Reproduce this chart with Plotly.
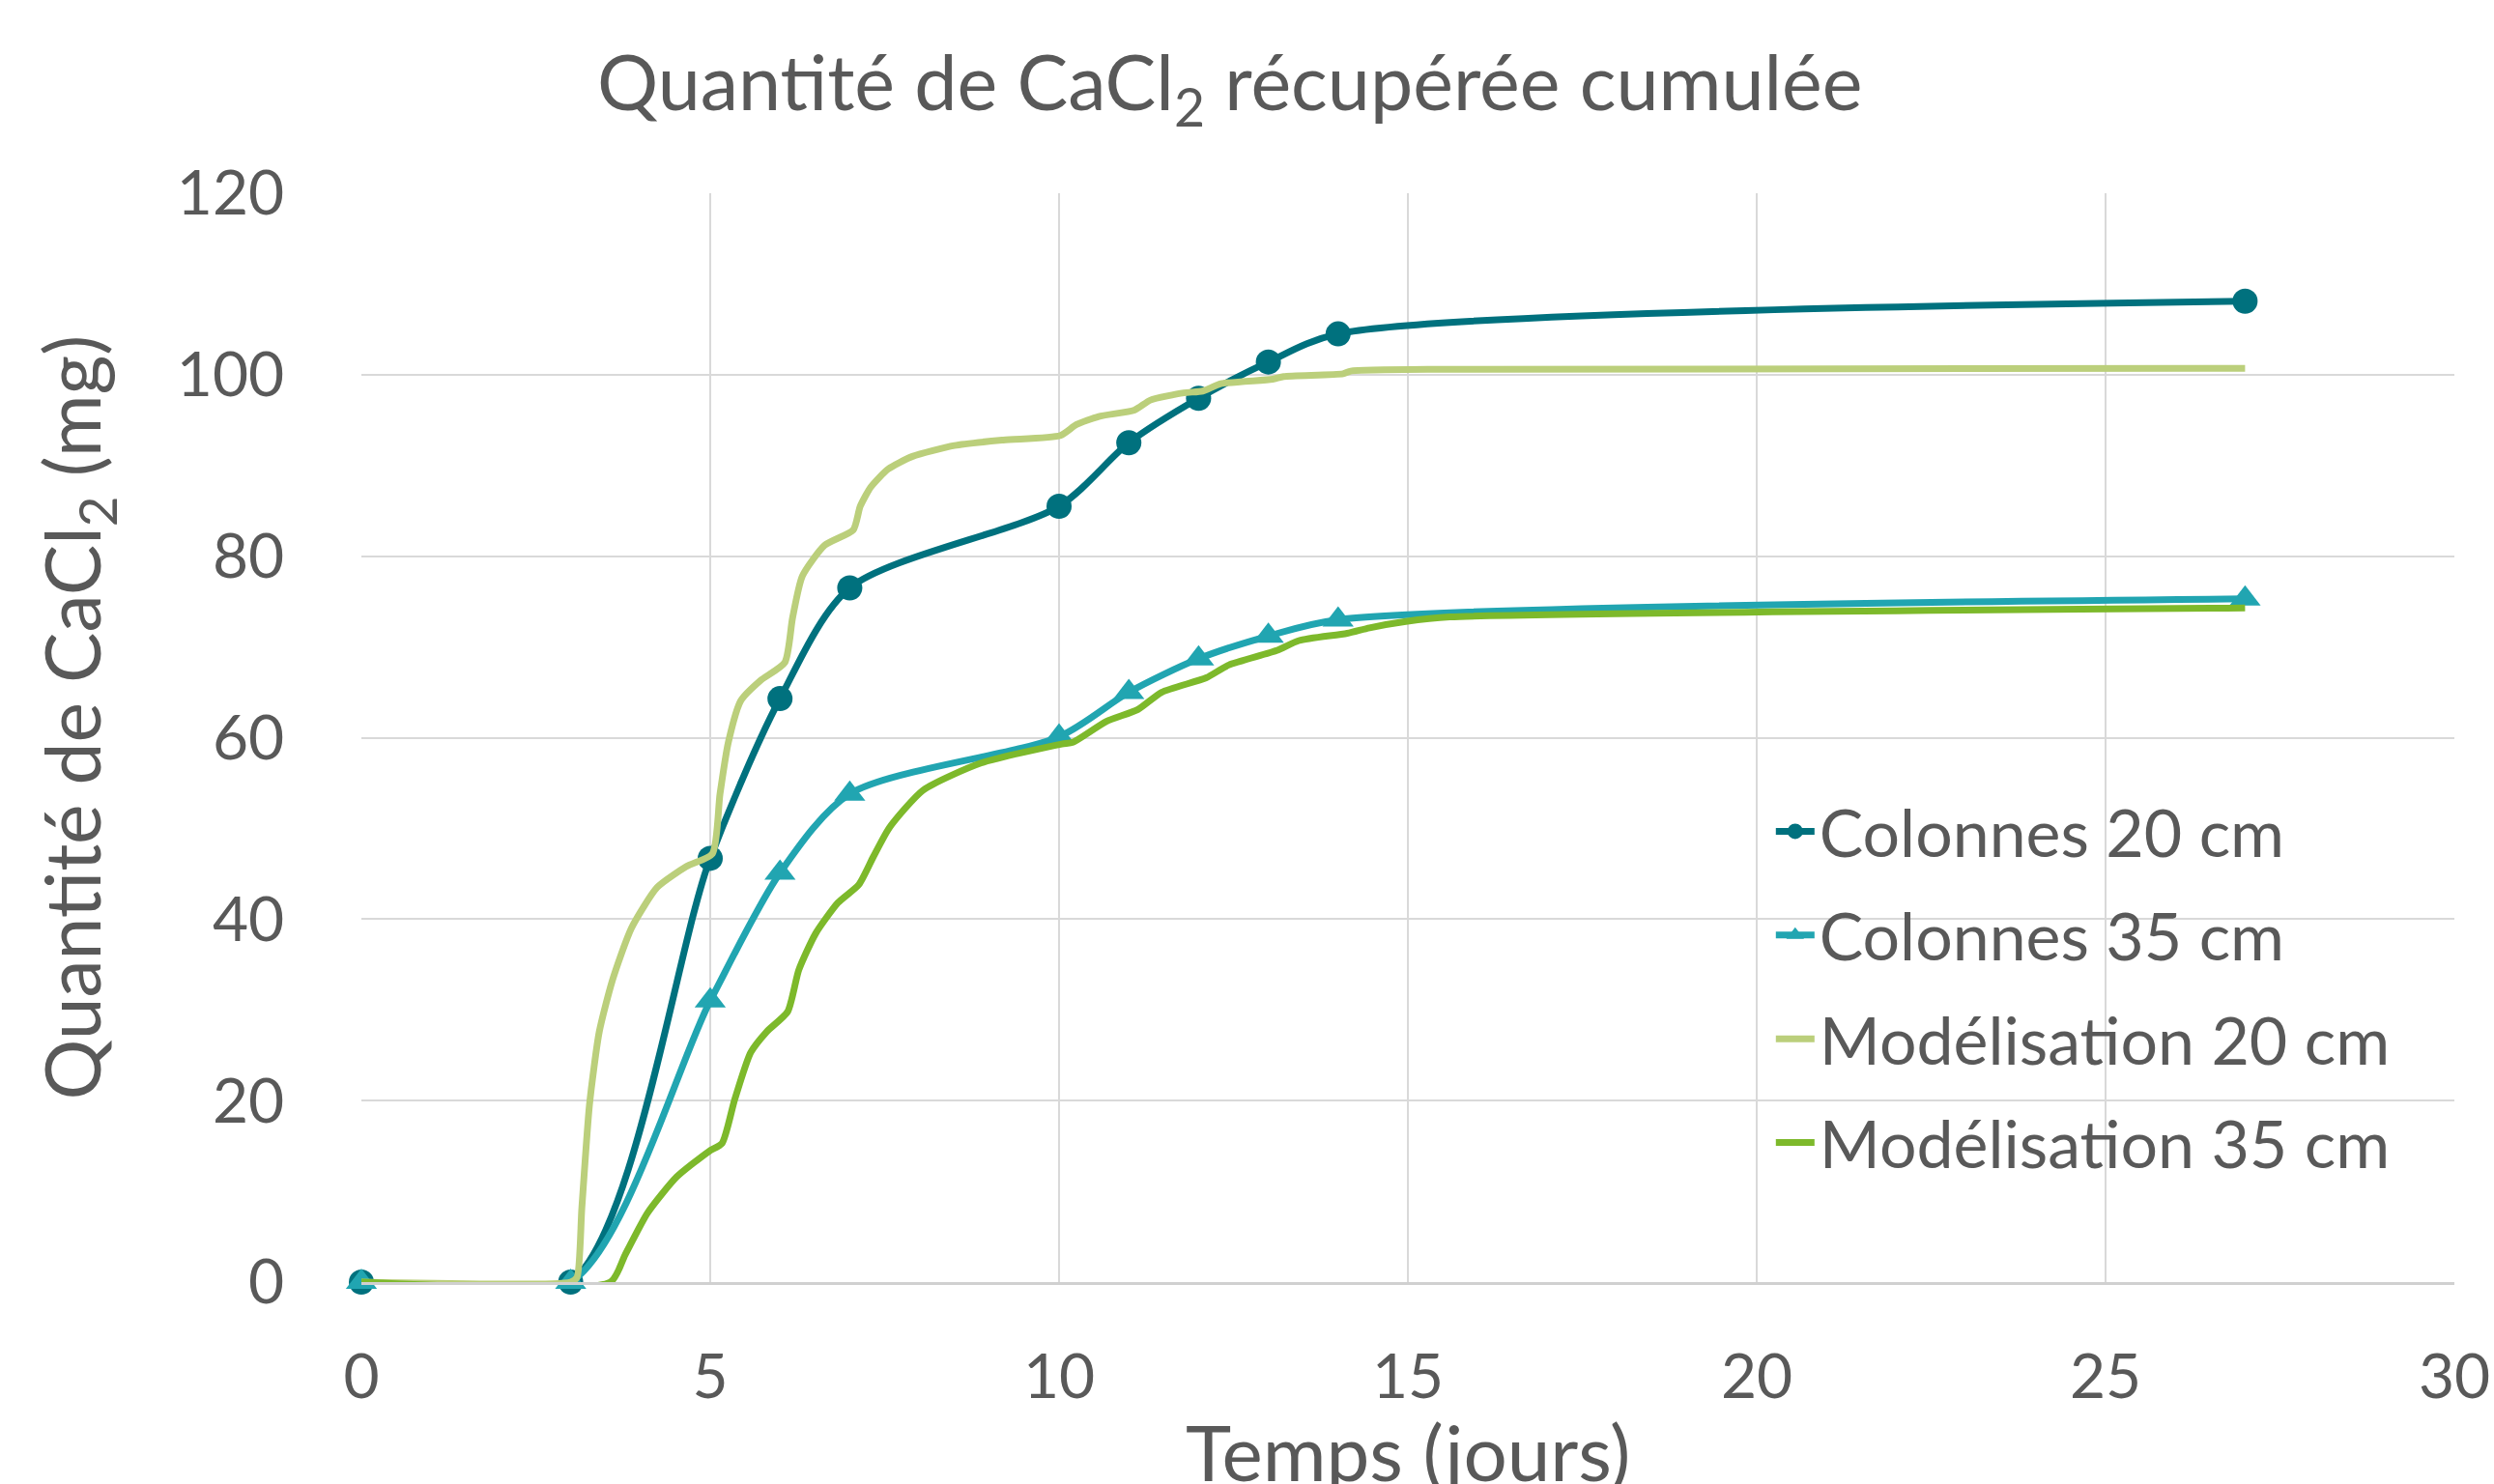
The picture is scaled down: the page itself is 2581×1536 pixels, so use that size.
import plotly.graph_objects as go

# ---------------- data ----------------
days_obs = [0, 3, 5, 6, 7, 10, 11, 12, 13, 14, 27]
col20 = [0, 0, 46.7, 64.3, 76.5, 85.5, 92.5, 97.4, 101.4, 104.5, 108.1]
col35 = [0, 0, 31.0, 45.1, 53.8, 60.1, 65.0, 68.7, 71.2, 73.0, 75.3]

mod20_x = [0, 3.0, 3.09, 3.16, 3.27, 3.41, 3.60, 3.87, 4.24, 4.66, 5.03, 5.14, 5.26,
           5.44, 5.72, 6.07, 6.18, 6.32, 6.64, 7.05, 7.15, 7.30, 7.55, 7.90, 8.50,
           9.20, 10.02, 10.25, 10.57, 11.08, 11.31, 11.79, 12.06, 12.32, 13.06,
           13.22, 14.07, 14.18, 15.6, 27]
mod20_y = [0, 0, 0.5, 8.2, 19.6, 27.6, 33.3, 39.0, 43.5, 45.8, 47.2, 53.8, 59.5,
           64.1, 66.3, 68.3, 73.2, 77.8, 81.2, 82.9, 85.5, 87.6, 89.6, 91.0, 92.2,
           92.8, 93.3, 94.5, 95.4, 96.1, 97.2, 98.0, 98.2, 99.0, 99.5,
           99.8, 100.1, 100.4, 100.6, 100.7]

mod35_x = [0, 3.57, 3.78, 4.10, 4.52, 4.98, 5.17, 5.35, 5.58, 5.81, 6.11, 6.27, 6.51,
           6.83, 7.13, 7.34, 7.57, 8.05, 8.88, 10.04, 10.2, 10.68, 11.13, 11.47,
           12.11, 12.43, 13.12, 13.44, 14.13, 14.45, 14.97, 15.6, 27]
mod35_y = [0, 0, 3.0, 7.6, 11.6, 14.4, 15.3, 20.1, 25.3, 27.6, 29.8, 34.4, 38.4,
           41.8, 43.8, 46.9, 50.1, 54.2, 57.2, 59.3, 59.5, 61.8, 63.1, 65.0,
           66.6, 68.0, 69.6, 70.7, 71.5, 72.1, 72.8, 73.3, 74.3]

names = ["Colonnes 20 cm", "Colonnes 35 cm", "Modélisation 20 cm", "Modélisation 35 cm"]
x_ticks = [0, 5, 10, 15, 20, 25, 30]
y_ticks = [0, 20, 40, 60, 80, 100, 120]

title_txt = "Quantité de CaCl<sub>2</sub> récupérée cumulée"
xtitle_txt = "Temps (jours)"
ytitle_txt = "Quantité de CaCl<sub>2</sub> (mg)"

# ---------------- style ----------------
FONT = "Lato"
GREY = "#595959"
C_COL20 = "#00717E"
C_COL35 = "#21A5B1"
C_MOD20 = "#BBCF7B"
C_MOD35 = "#7DB92B"

fig = go.Figure()

fig.add_trace(go.Scatter(
    x=days_obs, y=col20, name=names[0], mode="lines+markers",
    line=dict(color=C_COL20, width=7, shape="spline", smoothing=0.8),
    marker=dict(symbol="circle", size=26, color=C_COL20),
    cliponaxis=False, legendgroup="a"))
fig.add_trace(go.Scatter(
    x=days_obs, y=col35, name=names[1], mode="lines+markers",
    line=dict(color=C_COL35, width=7, shape="spline", smoothing=0.8),
    marker=dict(symbol="triangle-up", size=28, color=C_COL35),
    cliponaxis=False, legendgroup="b"))
fig.add_trace(go.Scatter(
    x=mod20_x, y=mod20_y, name=names[2], mode="lines",
    line=dict(color=C_MOD20, width=7, shape="spline", smoothing=0.6),
    legendgroup="c"))
fig.add_trace(go.Scatter(
    x=mod35_x, y=mod35_y, name=names[3], mode="lines",
    line=dict(color=C_MOD35, width=7, shape="spline", smoothing=0.6),
    legendgroup="d"))

PL, PR, PT, PB = 374, 41, 200, 209
plot_h = 1536 - PT - PB

fig.update_layout(
    width=2581, height=1536,
    margin=dict(l=PL, r=PR, t=PT, b=PB, autoexpand=False),
    paper_bgcolor="white", plot_bgcolor="white",
    font=dict(family=FONT, color=GREY, size=64),
    showlegend=True,
    legend=dict(x=0.6735, y=0.459, xanchor="left", yanchor="top",
                bgcolor="rgba(0,0,0,0)", font=dict(size=68, color=GREY),
                tracegroupgap=16, traceorder="grouped", itemwidth=40),
    annotations=[
        dict(text=title_txt, x=0.415, xref="paper", y=1 + (PT - 90) / plot_h,
             yref="paper", yanchor="middle", showarrow=False,
             font=dict(size=79, color=GREY)),
        dict(text=xtitle_txt, x=0.5, xref="paper", y=-0.155, yref="paper",
             yanchor="middle", showarrow=False, font=dict(size=80, color=GREY)),
        dict(text=ytitle_txt, textangle=-90, x=-0.136, xref="paper",
             y=0.519, yref="paper", xanchor="center", yanchor="middle",
             showarrow=False, font=dict(size=78.5, color=GREY)),
    ],
)

fig.update_xaxes(range=[0, 30], tickvals=x_ticks, ticktext=[str(v) for v in x_ticks],
                 showgrid=True, gridcolor="#D9D9D9", gridwidth=2,
                 showline=True, linecolor="#D0D0D0", linewidth=3, mirror=False,
                 zeroline=False, ticks="outside", ticklen=40, tickcolor="rgba(0,0,0,0)",
                 tickfont=dict(size=64, color=GREY), automargin=False)
fig.update_yaxes(range=[0, 120], tickvals=y_ticks, ticktext=[str(v) for v in y_ticks],
                 showgrid=True, gridcolor="#D9D9D9", gridwidth=2,
                 zeroline=False, showline=False,
                 ticks="outside", ticklen=66, tickcolor="rgba(0,0,0,0)",
                 tickfont=dict(size=64, color=GREY), automargin=False)

fig.write_html("out.html",
               config={"displayModeBar": False},
               post_script="document.body.style.margin='0';document.body.style.overflow='hidden';")
